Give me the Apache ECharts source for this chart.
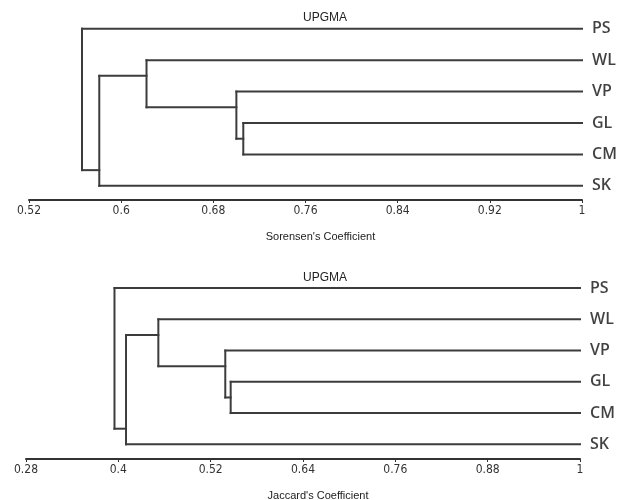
<!DOCTYPE html>
<html>
<head>
<meta charset="utf-8">
<script src="https://cdn.jsdelivr.net/npm/echarts@6/dist/echarts.min.js"></script>
<style>
  html, body { margin: 0; padding: 0; background: #fff; }
  #main { width: 623px; height: 500px; }
</style>
</head>
<body>
<div id="main"></div>
<script>
	var leaves = ['PS', 'WL', 'VP', 'GL', 'CM', 'SK'];
	// merge steps: a leaf name, or the number of an earlier step
	var merges = [['GL', 'CM'], ['VP', 0], ['WL', 1], [2, 'SK'], ['PS', 3]];
	var sorensenHeights = [0.706, 0.700, 0.622, 0.581, 0.566];
	var jaccardHeights = [0.546, 0.539, 0.452, 0.410, 0.395];
	var sorensenTicks = [0.52, 0.6, 0.68, 0.76, 0.84, 0.92, 1];
	var jaccardTicks = [0.28, 0.4, 0.52, 0.64, 0.76, 0.88, 1];

	// leaf y = row index, node y = between the two leaves where it splits
	function buildSegments(heights) {
		var steps = [];
		function pick(ref) {
			if (typeof ref === 'string') {
				var i = leaves.indexOf(ref);
				return {h: 1, y: i, first: i, last: i};
			}
			return steps[ref];
		}
		var segs = [];
		merges.forEach(function (m, k) {
			var a = pick(m[0]), b = pick(m[1]);
			var h = heights[k];
			segs.push([a.h, a.y, h, a.y]);
			segs.push([b.h, b.y, h, b.y]);
			segs.push([h, a.y, h, b.y]);
			steps.push({h: h, y: (a.last + b.first) / 2, first: a.first, last: b.last});
		});
		return segs;
	}

	function leafPoints() {
		return leaves.map(function (name, i) { return [1, i, name]; });
	}

	function renderSeg(params, api) {
		var p1 = api.coord([api.value(0), api.value(1)]);
		var p2 = api.coord([api.value(2), api.value(3)]);
		return {
			type: 'line',
			shape: {x1: p1[0], y1: p1[1], x2: p2[0], y2: p2[1]},
			style: {stroke: '#3c3c3c', lineWidth: 2, lineCap: 'square'}
		};
	}

	function xAxisOf(idx, min, ticks, name) {
		return {
			type: 'value', gridIndex: idx, min: min, max: 1, position: 'bottom',
			splitLine: {show: false},
			axisLine: {show: true, onZero: false, lineStyle: {color: '#333', width: 2}},
			axisTick: {show: true, customValues: ticks, length: 3, lineStyle: {color: '#333', width: 1}},
			axisLabel: {
				customValues: ticks, margin: 5, color: '#333', fontSize: 12,
				fontFamily: '"Liberation Sans Narrow", "DejaVu Sans Condensed", "Liberation Sans"'
			},
			name: name, nameLocation: 'middle', nameGap: 31,
			nameTextStyle: {color: '#222', fontSize: 11, fontFamily: 'Liberation Sans', padding: [0, 0, 0, 30]}
		};
	}

	function yAxisOf(idx, max) {
		return {type: 'value', gridIndex: idx, inverse: true, min: -0.5, max: max, show: false};
	}

	function labelSeries(idx) {
		return {
			type: 'scatter', xAxisIndex: idx, yAxisIndex: idx, symbolSize: 0,
			data: leafPoints(), silent: true,
			label: {
				show: true, position: 'right', distance: 10,
				formatter: function (p) { return p.data[2]; },
				color: '#111', fontSize: 16, fontWeight: 600, fontFamily: 'Open Sans'
			}
		};
	}

	var myChart = echarts.init(document.getElementById('main'), null, {renderer: 'canvas'});
	var titleStyle = {fontSize: 12, fontWeight: 'normal', color: '#222', fontFamily: 'Liberation Sans'};
	var option = {
		animation: false,
		title: [
			{text: 'UPGMA', left: 298, top: 7, textStyle: titleStyle},
			{text: 'UPGMA', left: 298, top: 267, textStyle: titleStyle}
		],
		grid: [
			{left: 29, width: 553, top: 13, height: 187, outerBoundsMode: 'none'},
			{left: 26, width: 554, top: 272.5, height: 186.5, outerBoundsMode: 'none'}
		],
		xAxis: [
			xAxisOf(0, 0.52, sorensenTicks, "Sorensen's Coefficient"),
			xAxisOf(1, 0.28, jaccardTicks, "Jaccard's Coefficient")
		],
		yAxis: [yAxisOf(0, 5.45), yAxisOf(1, 5.47)],
		series: [
			{
				type: 'custom', xAxisIndex: 0, yAxisIndex: 0,
				data: buildSegments(sorensenHeights), renderItem: renderSeg,
				encode: {x: [0, 2], y: [1, 3]}
			},
			{
				type: 'custom', xAxisIndex: 1, yAxisIndex: 1,
				data: buildSegments(jaccardHeights), renderItem: renderSeg,
				encode: {x: [0, 2], y: [1, 3]}
			},
			labelSeries(0),
			labelSeries(1)
		]
	};
	myChart.setOption(option);
</script>
</body>
</html>
